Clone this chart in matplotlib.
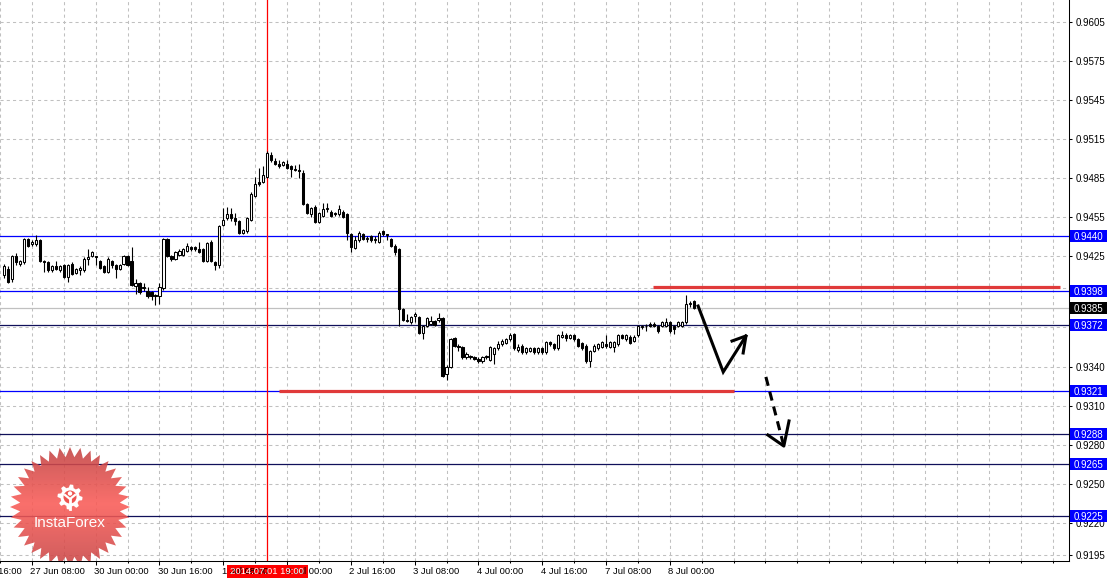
import numpy as np
import matplotlib
matplotlib.use("Agg")
import matplotlib.pyplot as plt
from matplotlib.patches import Rectangle, Polygon, Circle
from matplotlib.collections import LineCollection

plt.rcParams['font.family'] = ['Liberation Sans', 'DejaVu Sans']

# H1 candles, first bar = 27 Jun 2014 01:00, prices in points (price * 10000)
opens = [9410, 9415, 9407, 9425, 9419, 9420, 9438, 9434, 9434, 9437,
         9421, 9420, 9414, 9417, 9414, 9418, 9409, 9419, 9412, 9414,
         9414, 9423, 9425, 9425, 9421, 9417, 9413, 9421, 9418, 9415,
         9419, 9425, 9421, 9402, 9404, 9400, 9398, 9397, 9395, 9394,
         9400, 9438, 9425, 9423, 9426, 9426, 9429, 9432, 9432, 9430,
         9430, 9421, 9436, 9420, 9418, 9449, 9454, 9457, 9454, 9452,
         9443, 9444, 9453, 9471, 9482, 9482, 9486, 9503, 9498, 9496,
         9495, 9496, 9494, 9491, 9491, 9489, 9465, 9457, 9463, 9451,
         9456, 9461, 9459, 9458, 9457, 9459, 9457, 9442, 9431, 9437,
         9442, 9438, 9440, 9437, 9436, 9444, 9442, 9438, 9433, 9430,
         9384, 9376, 9374, 9379, 9378, 9366, 9371, 9373, 9375, 9376,
         9377, 9334, 9340, 9362, 9356, 9355, 9347, 9348, 9347, 9346,
         9344, 9348, 9345, 9350, 9354, 9357, 9358, 9361, 9365, 9353,
         9356, 9351, 9352, 9354, 9351, 9354, 9351, 9359, 9357, 9354,
         9363, 9364, 9362, 9364, 9361, 9358, 9356, 9344, 9352, 9354,
         9355, 9357, 9355, 9355, 9357, 9364, 9361, 9363, 9360, 9364,
         9370, 9371, 9373, 9373, 9371, 9371, 9371, 9374, 9371, 9371,
         9371, 9374, 9388, 9390]
highs = [9419, 9417, 9426, 9427, 9422, 9439, 9439, 9437, 9441, 9438,
         9422, 9421, 9418, 9421, 9418, 9419, 9419, 9420, 9416, 9417,
         9424, 9430, 9429, 9425, 9422, 9418, 9424, 9422, 9419, 9419,
         9426, 9426, 9432, 9407, 9405, 9404, 9401, 9398, 9396, 9404,
         9439, 9439, 9426, 9429, 9430, 9431, 9435, 9433, 9433, 9436,
         9431, 9436, 9437, 9421, 9449, 9462, 9463, 9462, 9458, 9453,
         9446, 9455, 9474, 9486, 9493, 9494, 9506, 9505, 9500, 9499,
         9498, 9499, 9495, 9495, 9496, 9491, 9466, 9463, 9464, 9459,
         9466, 9466, 9460, 9459, 9464, 9460, 9458, 9443, 9440, 9444,
         9443, 9440, 9441, 9440, 9444, 9445, 9442, 9439, 9434, 9431,
         9385, 9380, 9379, 9382, 9379, 9372, 9378, 9379, 9376, 9381,
         9378, 9341, 9362, 9363, 9357, 9356, 9351, 9349, 9348, 9347,
         9348, 9349, 9356, 9355, 9360, 9361, 9362, 9366, 9366, 9357,
         9357, 9355, 9355, 9355, 9355, 9355, 9360, 9360, 9358, 9365,
         9367, 9366, 9365, 9365, 9362, 9359, 9357, 9353, 9357, 9358,
         9360, 9364, 9360, 9360, 9365, 9365, 9365, 9364, 9364, 9372,
         9372, 9373, 9374, 9374, 9372, 9375, 9377, 9375, 9372, 9375,
         9375, 9395, 9390, 9391]
lows = [9408, 9404, 9405, 9418, 9417, 9419, 9432, 9433, 9433, 9420,
        9413, 9413, 9413, 9414, 9413, 9408, 9405, 9410, 9411, 9410,
        9413, 9418, 9424, 9418, 9415, 9412, 9412, 9416, 9408, 9414,
        9418, 9417, 9402, 9396, 9396, 9398, 9393, 9391, 9387, 9388,
        9399, 9424, 9421, 9422, 9425, 9425, 9428, 9429, 9429, 9427,
        9420, 9420, 9420, 9414, 9416, 9448, 9453, 9452, 9449, 9442,
        9442, 9443, 9452, 9470, 9479, 9481, 9485, 9497, 9495, 9493,
        9494, 9492, 9486, 9490, 9485, 9464, 9457, 9455, 9450, 9450,
        9455, 9459, 9455, 9456, 9456, 9454, 9437, 9428, 9430, 9436,
        9437, 9436, 9436, 9435, 9435, 9440, 9437, 9432, 9426, 9371,
        9375, 9374, 9373, 9374, 9365, 9361, 9370, 9372, 9371, 9374,
        9332, 9330, 9339, 9355, 9352, 9346, 9346, 9346, 9345, 9343,
        9343, 9346, 9344, 9342, 9353, 9356, 9357, 9360, 9353, 9351,
        9350, 9350, 9351, 9350, 9350, 9350, 9350, 9356, 9353, 9353,
        9362, 9360, 9361, 9360, 9355, 9353, 9343, 9340, 9351, 9353,
        9354, 9354, 9354, 9351, 9356, 9361, 9360, 9357, 9359, 9363,
        9369, 9367, 9370, 9370, 9366, 9370, 9370, 9366, 9365, 9370,
        9370, 9373, 9386, 9384]
closes = [9417, 9405, 9425, 9420, 9421, 9438, 9433, 9436, 9437, 9421,
          9420, 9414, 9417, 9415, 9417, 9409, 9418, 9411, 9415, 9416,
          9423, 9424, 9428, 9424, 9416, 9413, 9423, 9418, 9415, 9418,
          9425, 9418, 9403, 9404, 9397, 9401, 9394, 9394, 9394, 9401,
          9438, 9425, 9423, 9428, 9429, 9430, 9433, 9430, 9430, 9428,
          9421, 9435, 9421, 9418, 9448, 9453, 9457, 9454, 9452, 9443,
          9445, 9454, 9473, 9480, 9480, 9487, 9504, 9499, 9496, 9494,
          9497, 9493, 9492, 9492, 9490, 9465, 9458, 9462, 9451, 9458,
          9461, 9462, 9456, 9457, 9461, 9455, 9443, 9432, 9437, 9443,
          9438, 9439, 9437, 9438, 9443, 9442, 9441, 9433, 9428, 9384,
          9376, 9375, 9378, 9380, 9366, 9371, 9377, 9375, 9372, 9377,
          9333, 9340, 9361, 9356, 9355, 9347, 9350, 9347, 9346, 9344,
          9347, 9347, 9355, 9354, 9357, 9360, 9361, 9364, 9354, 9355,
          9351, 9354, 9354, 9351, 9354, 9351, 9359, 9357, 9354, 9364,
          9364, 9362, 9364, 9361, 9356, 9354, 9344, 9352, 9356, 9357,
          9359, 9356, 9359, 9359, 9364, 9362, 9364, 9358, 9363, 9371,
          9371, 9371, 9371, 9371, 9367, 9374, 9374, 9367, 9369, 9374,
          9374, 9388, 9389, 9385]

y_ticks = [0.9605, 0.9575, 0.9545, 0.9515, 0.9485, 0.9455, 0.9425, 0.9400,
           0.9370, 0.9340, 0.9310, 0.9280, 0.9250, 0.9220, 0.9195]
hidden_ticks = [0.9400]   # sits fully under the 0.9398 box
x_labels = ["26 Jun 16:00", "27 Jun 08:00", "30 Jun 00:00", "30 Jun 16:00",
            "1 Jul 08:00", "2 Jul 00:00", "2 Jul 16:00", "3 Jul 08:00",
            "4 Jul 00:00", "4 Jul 16:00", "7 Jul 08:00", "8 Jul 00:00"]
label_bars = [-9, 7, 23, 39, 55, 71, 87, 103, 119, 135, 151, 167]

blue_levels = [0.9440, 0.9398, 0.9321]
dark_levels = [0.9372, 0.9288, 0.9265, 0.9225]
bid_price = 0.9385
marker_bar = 66
marker_text = "2014.07.01 19:00"

# thick red lines (start bar, end bar, price)
red_start = [162.9, 68.9]
red_end = [264.9, 183.1]
red_price = [0.94008, 0.93208]

# hand drawn forecast arrows
arrow_x = [174.1, 180.4, 186.1]
arrow_y = [0.93865, 0.93358, 0.93635]
arrow_head_x = [182.6, 186.1, 185.4]
arrow_head_y = [0.93596, 0.93635, 0.93504]
dash_x = [191.1, 195.6]
dash_y = [0.93320, 0.92788]
dash_head_x = [191.6, 195.6, 196.9]
dash_head_y = [0.92873, 0.92788, 0.92981]

o = np.array(opens) / 1e4
h = np.array(highs) / 1e4
l = np.array(lows) / 1e4
c = np.array(closes) / 1e4
bars = np.arange(len(o))

W, H = 1111, 580
fig = plt.figure(figsize=(W / 100, H / 100), dpi=100)
fig.patch.set_facecolor('white')
ax = fig.add_axes([0, 19 / H, 1069 / W, 561 / H])
ax.set_xlim(-0.125, 267.125)
ax.set_ylim(0.919040, 0.962190)

# grid
dash = (0, (3, 3))
ax.set_yticks(y_ticks)
ax.set_yticklabels(['' if v in hidden_ticks else '%.4f' % v for v in y_ticks])
ax.yaxis.tick_right()
grid_bars = list(range(-1, 268, 8))
major = [b for b in label_bars if b >= 0]
ax.set_xticks(major)
ax.set_xticks([b for b in grid_bars if b not in major], minor=True)
ax.set_xticklabels([])
for b in grid_bars:
    ax.axvline(b, color='#c0c0c0', lw=0.75, ls=dash, zorder=0)
for v in y_ticks:
    ax.axhline(v, color='#c0c0c0', lw=0.75, ls=dash, zorder=0)
ax.tick_params(axis='y', length=2.5, width=0.75, pad=2, labelsize=7)
ax.tick_params(axis='x', which='major', length=3, width=0.75)
ax.tick_params(axis='x', which='minor', length=1.5, width=0.75)
for s in ['top', 'left']:
    ax.spines[s].set_visible(False)
for s in ['right', 'bottom']:
    ax.spines[s].set_linewidth(0.75)

# levels
for v in blue_levels:
    ax.axhline(v, color='#0000ff', lw=0.9, zorder=1)
for v in dark_levels:
    ax.axhline(v, color='#10105a', lw=0.9, zorder=1)
ax.axhline(bid_price, color='#c0c0c0', lw=0.9, zorder=1)
ax.axvline(marker_bar, color='#ff0000', lw=0.9, zorder=1)

# candles
wicks = LineCollection([[(b, lo), (b, hi)] for b, lo, hi in zip(bars, l, h)],
                       colors='black', linewidths=0.8, zorder=2)
ax.add_collection(wicks)
bw = 0.55
for b, op, cl in zip(bars, o, c):
    bottom = min(op, cl)
    height = max(abs(cl - op), 1e-6)
    fc = 'white' if cl >= op else 'black'
    ax.add_patch(Rectangle((b - bw / 2, bottom), bw, height, fc=fc, ec='black',
                           lw=0.75, zorder=3))

# red zones
for x0, x1, p in zip(red_start, red_end, red_price):
    ax.plot([x0, x1], [p, p], color='#e03a3a', lw=2.3, zorder=4,
            solid_capstyle='butt')

# arrows
ax.plot(arrow_x, arrow_y, color='black', lw=2.2, zorder=5, solid_joinstyle='miter')
ax.plot(arrow_head_x, arrow_head_y, color='black', lw=2.2, zorder=5)
ax.plot(dash_x, dash_y, color='black', lw=2.2, ls=(0, (3, 2)), zorder=5)
ax.plot(dash_head_x, dash_head_y, color='black', lw=2.2, zorder=5)

# overlay in pixel coordinates for labels and logo
ov = fig.add_axes([0, 0, 1, 1], zorder=5)
ov.set_xlim(0, W)
ov.set_ylim(H, 0)
ov.axis('off')
ov.patch.set_alpha(0)


def row_of(p):
    return H - ax.transData.transform((0, p))[1]


def col_of(b):
    return ax.transData.transform((b, 0))[0]


# time labels
for b, txt in zip(label_bars, x_labels):
    ov.text(col_of(b) - 1.5, 572, txt, fontsize=6.8, ha='left', va='center',
            clip_on=False)

mx = col_of(marker_bar)
ov.add_patch(Rectangle((mx - 40.5, 565), 81, 13, fc='#ff0000', ec='none'))
ov.text(mx, 571.5, marker_text, fontsize=6.8, color='white', ha='center',
        va='center')

# price boxes
for v in blue_levels + dark_levels:
    r = row_of(v)
    ov.add_patch(Rectangle((1070, r - 6), 37, 12, fc='#0000ff', ec='none'))
    ov.text(1088.5, r, '%.4f' % v, fontsize=7, color='white', ha='center',
            va='center_baseline')
r = row_of(bid_price)
ov.add_patch(Rectangle((1070, r - 6), 37, 12, fc='black', ec='none'))
ov.text(1088.5, r, '%.4f' % bid_price, fontsize=7, color='white', ha='center',
        va='center_baseline')

# logo
cx, cy, R, r_in, n = 70, 507, 60, 50, 36
ang = np.linspace(0, 2 * np.pi, 2 * n, endpoint=False) - np.pi / 2
rad = np.where(np.arange(2 * n) % 2 == 0, R, r_in)
star = Polygon(np.column_stack([cx + rad * np.cos(ang), cy + rad * np.sin(ang)]),
               closed=True, fc='none', ec='none')
ov.add_patch(star)
grad = np.linspace(0, 1, 200)
top = np.array([0.76, 0.26, 0.26])
mid = np.array([0.98, 0.36, 0.34])
bot = np.array([0.80, 0.28, 0.28])
cols = np.where(grad[:, None] < 0.5,
                top + (mid - top) * (grad[:, None] / 0.5),
                mid + (bot - mid) * ((grad[:, None] - 0.5) / 0.5))
img = np.repeat(cols[:, None, :], 2, axis=1)
im = ov.imshow(img, extent=(cx - R, cx + R, 561, cy - R), origin='upper',
               aspect='auto', alpha=0.88, zorder=2)
im.set_clip_path(star)
ov.set_xlim(0, W)
ov.set_ylim(H, 0)

gx, gy = 70, 497
ga = np.linspace(0, 2 * np.pi, 48, endpoint=False)
gr = np.where((np.arange(48) // 3) % 2 == 0, 12.5, 9.5)
ov.add_patch(Polygon(np.column_stack([gx + gr * np.cos(ga), gy + gr * np.sin(ga)]),
                     closed=True, fc='white', ec='none', zorder=3))
ov.add_patch(Circle((gx, gy), 6.5, fc='#ee5450', ec='none', zorder=4))
ov.add_patch(Circle((gx, gy - 3.5), 2.2, fc='white', ec='none', zorder=5))
ov.plot([gx - 5, gx, gx + 5], [gy - 2, gy + 2, gy - 2], color='white', lw=1.6,
        zorder=5)
ov.plot([gx, gx], [gy + 2, gy + 12], color='white', lw=2, zorder=5)
ov.text(cx, 523, 'InstaForex', fontsize=11, color='white', ha='center',
        va='center', zorder=6)

fig.savefig('out.png', dpi=100)
